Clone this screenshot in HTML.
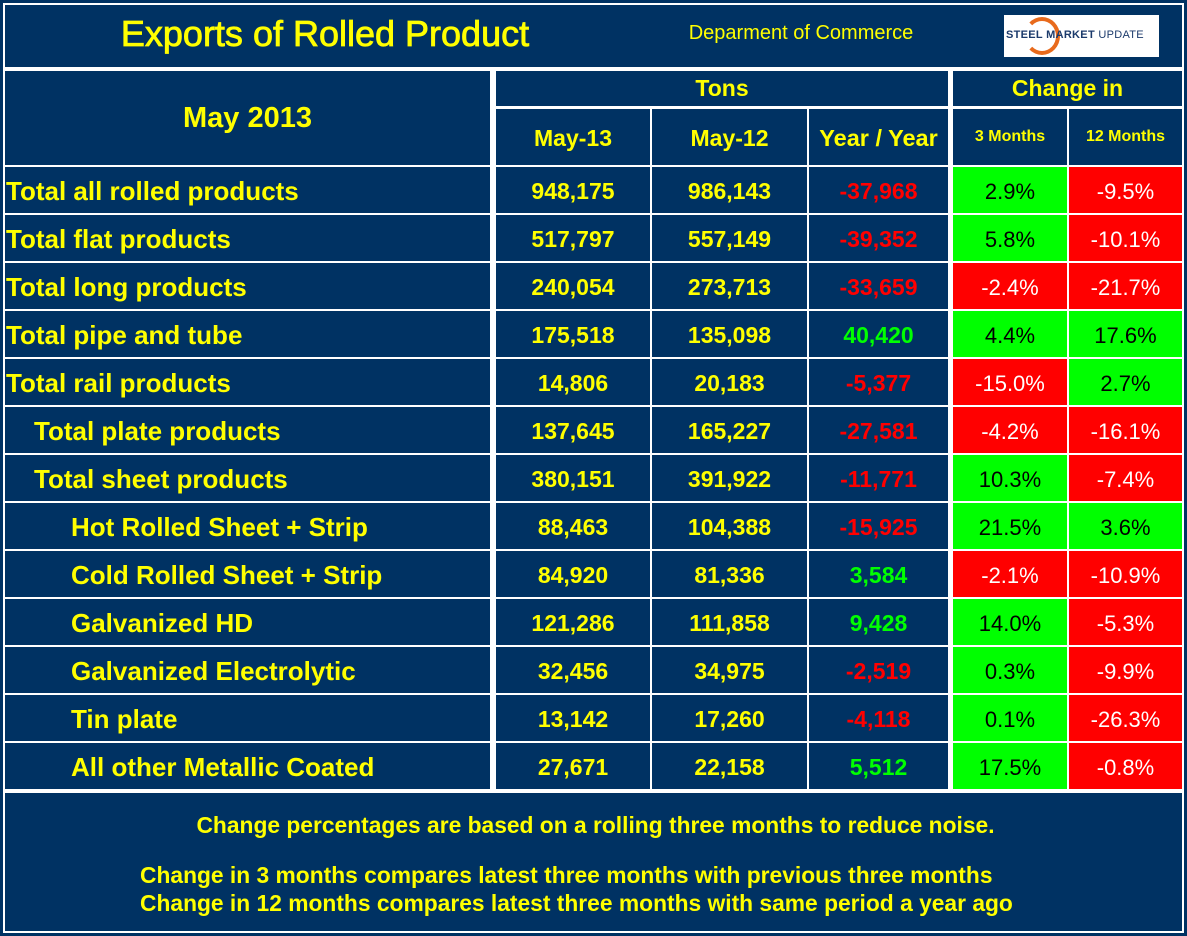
<!DOCTYPE html>
<html><head><meta charset="utf-8">
<style>
body{margin:0;width:1187px;height:936px;background:#fff;position:relative;overflow:hidden;font-family:"Liberation Sans",Arial,sans-serif;}
.c{position:absolute;background:#003263;color:#ffff00;display:flex;align-items:center;justify-content:center;font-weight:bold;box-sizing:border-box;white-space:nowrap;}
.fn{position:absolute;color:#ffff00;font-weight:bold;font-size:22.8px;white-space:nowrap;}
</style></head><body>
<div style="position:absolute;left:0;top:0;width:1187px;height:936px;background:#003263"></div>
<div style="position:absolute;left:3px;top:3px;width:1179px;height:928px;border:1px solid #fff;background:#fff"></div>
<div class="c" style="left:5px;top:5px;width:1177px;height:62px"></div>
<div class="c" style="left:60px;top:8px;width:530px;height:52px;font-size:36px;font-weight:normal;-webkit-text-stroke:0.8px #ffff00">Exports of Rolled Product</div>
<div class="c" style="left:670px;top:18px;width:262px;height:30px;font-size:20px;font-weight:normal">Deparment of Commerce</div>
<div style="position:absolute;left:1004px;top:15px;width:155px;height:42px;background:#fff;overflow:hidden">
<div style="position:absolute;left:20px;top:2px;width:36px;height:38px;border-radius:50%;border:4px solid #e86a1c;border-left-color:transparent;box-sizing:border-box"></div>
<div style="position:absolute;left:2px;top:14px;font-size:11px;color:#1b3a6b;font-weight:bold;letter-spacing:0.3px">STEEL MARKET <span style="font-weight:normal">UPDATE</span></div>
</div>
<div class="c" style="left:5px;top:71px;width:485px;height:94px;font-size:29px">May 2013</div>
<div class="c" style="left:496px;top:71px;width:452px;height:35px;font-size:23px">Tons</div>
<div class="c" style="left:953px;top:71px;width:229px;height:35px;font-size:23px">Change in</div>
<div class="c" style="left:496px;top:109px;width:154px;height:56px;font-size:23px;padding-top:3px">May-13</div>
<div class="c" style="left:652px;top:109px;width:155px;height:56px;font-size:23px;padding-top:3px">May-12</div>
<div class="c" style="left:809px;top:109px;width:139px;height:56px;font-size:23.5px;padding-top:3px">Year / Year</div>
<div class="c" style="left:953px;top:109px;width:114px;height:56px;font-size:16px">3 Months</div>
<div class="c" style="left:1069px;top:109px;width:113px;height:56px;font-size:16px">12 Months</div>
<div id="rows"></div>
<div class="c" style="left:5px;top:793px;width:1177px;height:138px"></div>
<div class="fn" style="left:0;width:1187px;text-align:center;top:812px;padding-left:2px">Change percentages are based on a rolling three months to reduce noise.</div>
<div class="fn" style="left:140px;top:862px">Change in 3 months compares latest three months with previous three months</div>
<div class="fn" style="left:140px;top:890px">Change in 12 months compares latest three months with same period a year ago</div>
<script>
const labels=["Total all rolled products","Total flat products","Total long products","Total pipe and tube","Total rail products","Total plate products","Total sheet products","Hot Rolled Sheet + Strip","Cold Rolled Sheet + Strip","Galvanized HD","Galvanized Electrolytic","Tin plate","All other Metallic Coated"];
const levels=[0,0,0,0,0,1,1,2,2,2,2,2,2];
const may13=[948175,517797,240054,175518,14806,137645,380151,88463,84920,121286,32456,13142,27671];
const may12=[986143,557149,273713,135098,20183,165227,391922,104388,81336,111858,34975,17260,22158];
const yoyVals=[-37968,-39352,-33659,40420,-5377,-27581,-11771,-15925,3584,9428,-2519,-4118,5512];
const chg3=[2.9,5.8,-2.4,4.4,-15.0,-4.2,10.3,21.5,-2.1,14.0,0.3,0.1,17.5];
const chg12=[-9.5,-10.1,-21.7,17.6,2.7,-16.1,-7.4,3.6,-10.9,-5.3,-9.9,-26.3,-0.8];
const root=document.getElementById('rows');
const fmt=n=>n.toLocaleString('en-US');
function cell(name,l,t,w,h,txt,style){const d=document.createElement('div');d.className='c';


d.style.cssText=`left:${l}px;top:${t}px;width:${w}px;height:${h}px;padding-top:3px;`+style;d.textContent=txt;root.appendChild(d);}
const indents=[1,29,66];
labels.forEach((lab,i)=>{
 const t=167+48*i,h=46;
 const yoy=yoyVals[i];
 cell('row-label',5,t,485,h,lab,`justify-content:flex-start;padding-left:${indents[levels[i]]}px;font-size:26px`);
 cell('may13-value',496,t,154,h,fmt(may13[i]),'font-size:23px');
 cell('may12-value',652,t,155,h,fmt(may12[i]),'font-size:23px');
 cell('yoy-value',809,t,139,h,fmt(yoy),'font-size:23px;color:'+(yoy<0?'#ff0000':'#00ff00'));
 const p3=chg3[i]>=0,p12=chg12[i]>=0;
 cell('change-3m',953,t,114,h,chg3[i].toFixed(1)+'%',`font-size:22px;font-weight:normal;background:${p3?'#00ff00':'#ff0000'};color:${p3?'#000':'#fff'}`);
 cell('change-12m',1069,t,113,h,chg12[i].toFixed(1)+'%',`font-size:22px;font-weight:normal;background:${p12?'#00ff00':'#ff0000'};color:${p12?'#000':'#fff'}`);
});
</script>
</body></html>
